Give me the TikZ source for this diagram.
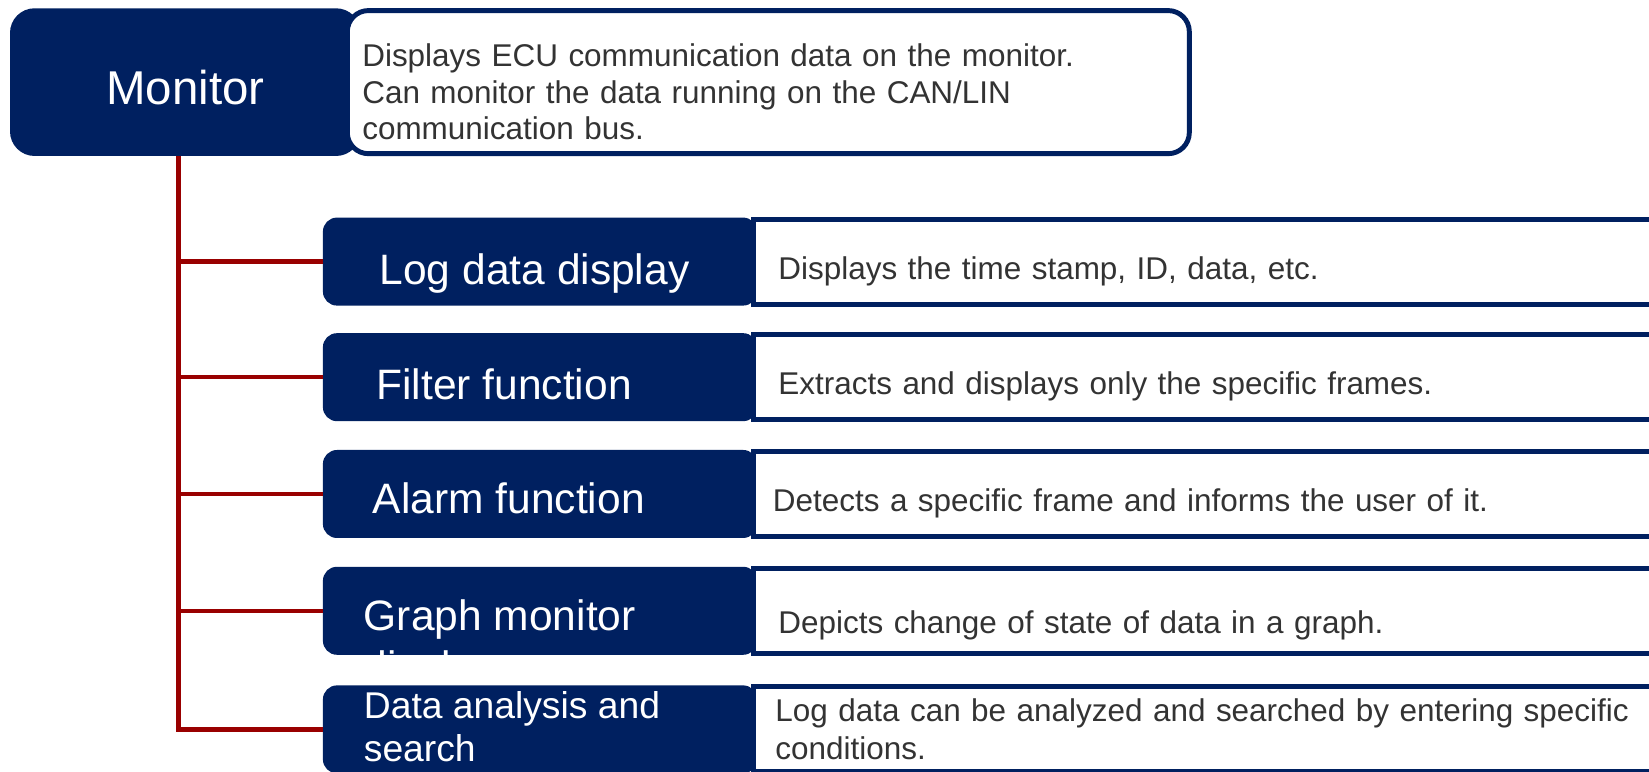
\documentclass[tikz,border=0pt]{standalone}
\usepackage{fontspec}
\setmainfont{Liberation Sans}
\usetikzlibrary{positioning}
\definecolor{ecunavy}{HTML}{002060}
\definecolor{ecured}{HTML}{990000}
\definecolor{ecuink}{HTML}{333333}

\begin{document}
\begin{tikzpicture}[
      outer sep=0pt,
      head/.style={fill=ecunavy, rounded corners=7pt, minimum width=3.506cm,
                   minimum height=1.477cm, inner sep=0pt, text=white,
                   text height=13pt, text depth=0pt,
                   font=\fontsize{13.5}{16}\selectfont},
      headnote/.style={fill=white, draw=ecunavy, line width=1.4pt,
                       rounded corners=6pt, minimum width=8.42cm,
                       minimum height=1.431cm, text width=8.12cm, align=left,
                       inner xsep=0.15cm, inner ysep=0pt, text=ecuink,
                       execute at begin node={\rule{0pt}{12pt}},
                       font=\fontsize{8.95}{10.45}\selectfont},
      tab/.style={fill=ecunavy, rounded corners=4pt, minimum width=4.343cm,
                  minimum height=0.88cm, inner sep=0pt},
      tabtxt/.style={text=white, align=left, inner sep=0pt,
                     font=\fontsize{12.1}{14.5}\selectfont},
      smalltxt/.style={tabtxt, font=\fontsize{10.6}{12.2}\selectfont},
      basenote/.style={fill=white, draw=ecunavy, line width=1.4pt,
                       minimum height=0.85cm, text width=9.5cm, align=left,
                       inner xsep=0.245cm, inner ysep=0pt, text=ecuink,
                       font=\fontsize{8.95}{10.9}\selectfont},
      note/.style={basenote, execute at begin node={\rule{0pt}{11.9pt}}},
      link/.style={draw=ecured, line width=1.3pt},
    ]
    \clip (0,0) rectangle (16.49,7.72);

    % Top item
    \node[head, anchor=north west] (mon) at (0.10,7.637) {Monitor};
    \node[headnote, anchor=west] (monnote) at (3.473,6.8985)
      {Displays ECU communication data on the monitor.\\
       Can monitor the data running on the CAN/LIN\\
       communication bus.};

    % Sub items, one row each
    \node[tab, anchor=north west] (log) at (3.229,5.544) {};
    \node[tab, below=0.276cm of log]   (filt)  {};
    \node[tab, below=0.288cm of filt]  (alarm) {};
    \node[tab, below=0.288cm of alarm] (graph) {};

    % Titles on the tabs
    \node[tabtxt, below right=0.365cm and 0.568cm of log.north west]
      {Log data display};
    \node[tabtxt, below right=0.351cm and 0.536cm of filt.north west]
      {Filter function};
    \node[tabtxt, below right=0.325cm and 0.50cm of alarm.north west]
      {Alarm function};
    \node[tabtxt, below right=0.333cm and 0.41cm of graph.north west]
      {Graph monitor\\display};
    % last tab after the graph title, so its second line hides behind it
    \node[tab, below=0.306cm of graph] (data) {};
    \node[smalltxt, below right=0.065cm and 0.41cm of data.north west]
      {Data analysis and\\search};

    % Descriptions
    \node[note, right=-0.033cm of log]   (lognote)
      {Displays the time stamp, ID, data, etc.};
    \node[note, right=-0.033cm of filt]  (filtnote)
      {Extracts and displays only the specific frames.};
    \node[note, inner xsep=0.19cm, right=-0.033cm of alarm] (alarmnote)
      {Detects a specific frame and informs the user of it.};
    \node[basenote, execute at begin node={\rule{0pt}{14.9pt}},
          right=-0.033cm of graph] (graphnote)
      {Depicts change of state of data in a graph.};
    \node[basenote, inner xsep=0.215cm, right=-0.033cm of data] (datanote)
      {Log data can be analyzed and searched by entering specific\\conditions.};

    % Tree lines
    \coordinate (root) at ([xshift=-0.07cm]mon.south);
    \draw[link] (root) |- (data.west);
    \foreach \t in {log,filt,alarm,graph}
      \draw[link] (root |- \t.west) -- (\t.west);
  \end{tikzpicture}
\end{document}
